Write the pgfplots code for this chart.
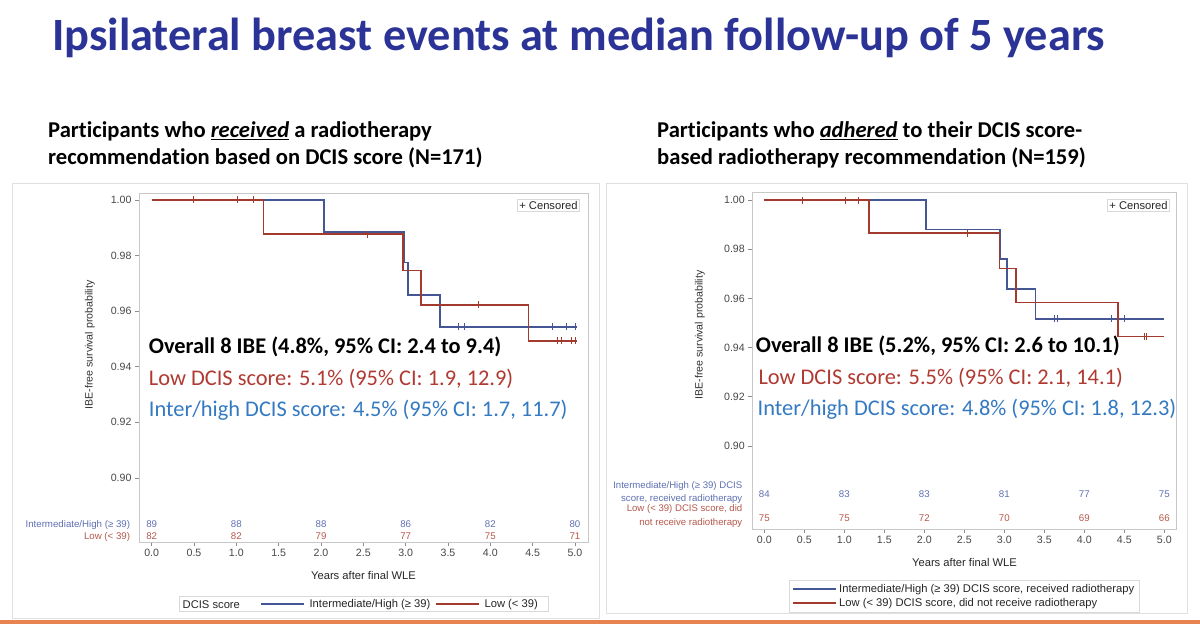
\documentclass[border=0pt]{standalone}
\usepackage{pgfplots}
\pgfplotsset{compat=1.18}
\usepackage{fontspec}
\setmainfont{Liberation Sans}
\newfontfamily\calibri[Ligatures=NoCommon]{Carlito}
\definecolor{kmblue}{RGB}{68,86,148}
\definecolor{kmred}{RGB}{162,58,46}
\definecolor{numblue}{RGB}{95,112,178}
\definecolor{numred}{RGB}{182,88,76}
\definecolor{txtred}{RGB}{176,58,50}
\definecolor{txtblue}{RGB}{52,122,194}
\definecolor{titleblue}{RGB}{43,52,150}
\definecolor{framegray}{RGB}{200,200,200}
\definecolor{slideline}{RGB}{232,130,80}
\newcommand{\fs}[1]{\fontsize{#1}{#1}\selectfont}
\pgfplotsset{
  kmaxis/.style={
    anchor=south west, scale only axis, clip=false,
    axis line style={draw=framegray, line width=0.8pt},
    tick style={draw=black!45, line width=0.6pt},
    tick align=outside, major tick length=4pt,
    xtick pos=left, ytick pos=left,
    xtick={0,0.5,1,1.5,2,2.5,3,3.5,4,4.5,5},
    ytick={0.90,0.92,0.94,0.96,0.98,1.00},
    /pgf/number format/assume math mode=true,
    tick label style={font=\fs{10.6}, text=black!72},
    x tick label style={/pgf/number format/.cd, fixed, fixed zerofill, precision=1},
    y tick label style={/pgf/number format/.cd, fixed, fixed zerofill, precision=2},
    legend cell align=left,
    legend image code/.code={\draw[#1, line width=1.8pt] (0pt,0pt) -- (43pt,0pt);},
  },
  kmb/.style={kmblue, line width=1.8pt, const plot},
  kmr/.style={kmred, line width=1.8pt, const plot},
  cb/.style={only marks, mark=|, mark size=3.5pt, kmblue, mark options={line width=0.8pt}, forget plot},
  cr/.style={only marks, mark=|, mark size=3.5pt, kmred, mark options={line width=0.8pt}, forget plot},
}
\tikzset{atrisk/.style={font=\fs{9.7}, inner sep=0pt}}
\begin{document}
\begin{tikzpicture}[x=1pt,y=1pt]
\path[use as bounding box] (0,0) rectangle (1200,628);
\fill[white] (0,0) rectangle (1200,628);

% slide title
\node[anchor=base west, inner sep=0pt, text=titleblue, font=\calibri\bfseries\fs{46.3}] at (52,577) {Ipsilateral breast events at median follow-up of 5 years};

% subtitles
\node[anchor=base west, inner sep=0pt, font=\calibri\bfseries\fs{22.6}] at (48,490) {Participants who \underline{\textit{received}} a radiotherapy};
\node[anchor=base west, inner sep=0pt, font=\calibri\bfseries\fs{22.6}] at (48,463) {recommendation based on DCIS score (N=171)};
\node[anchor=base west, inner sep=0pt, font=\calibri\bfseries\fs{22.6}] at (657,490) {Participants who \underline{\textit{adhered}} to their DCIS score-};
\node[anchor=base west, inner sep=0pt, font=\calibri\bfseries\fs{22.6}] at (657,463) {based radiotherapy recommendation (N=159)};

% panel frames
\draw[black!12, line width=0.8pt] (12,10) rectangle (599,445);
\draw[black!12, line width=0.8pt] (606,15) rectangle (1187,445);
% orange rule at bottom of slide
\fill[slideline] (0,4) rectangle (1200,8);

% left legend frame and title
\draw[black!15, line width=0.6pt] (179,16.3) rectangle (548,31.3);
\node[anchor=west, inner sep=0pt, font=\fs{11.2}, text=black!85] at (182.5,23.8) {DCIS score};

% ---------------- LEFT PANEL ----------------
\begin{axis}[kmaxis, at={(139pt,86pt)}, width=449pt, height=349pt,
  xmin=-0.15, xmax=5.154, ymin=0.8769, ymax=1.0025,
  legend columns=-1,
  legend style={at={(0.2686,-0.1777)}, anchor=west, draw=none, fill=none, font=\fs{11.2}, text=black!85,
    inner xsep=0pt, inner ysep=1pt,
    /tikz/every odd column/.append style={column sep=3pt},
    /tikz/every even column/.append style={column sep=2.5pt}},
]
\addplot[kmb] coordinates {(0,1.0000) (2.04,0.9886) (2.98,0.9775) (3.03,0.9659) (3.41,0.9544) (5.02,0.9544)};
\addlegendentry{Intermediate/High (≥ 39)}
\addplot[kmr] coordinates {(0,1.0000) (1.32,0.9876) (2.97,0.9746) (3.18,0.9622) (4.45,0.9493) (5.02,0.9493)};
\addlegendentry{Low (< 39)}
\addplot[cb] coordinates {(3.62,0.9544) (3.69,0.9544) (4.73,0.9544) (4.90,0.9544) (5.01,0.9544)};
\addplot[cr] coordinates {(0.49,1.0) (1.01,1.0) (1.20,1.0) (2.55,0.9876) (3.86,0.9622) (4.79,0.9493) (4.84,0.9493) (4.96,0.9493) (5.00,0.9493)};
% numbers at risk
\node[atrisk, text=numblue] at (axis cs:0,0.8832) {89};
\node[atrisk, text=numblue] at (axis cs:1,0.8832) {88};
\node[atrisk, text=numblue] at (axis cs:2,0.8832) {88};
\node[atrisk, text=numblue] at (axis cs:3,0.8832) {86};
\node[atrisk, text=numblue] at (axis cs:4,0.8832) {82};
\node[atrisk, text=numblue] at (axis cs:5,0.8832) {80};
\node[atrisk, text=numred] at (axis cs:0,0.8790) {82};
\node[atrisk, text=numred] at (axis cs:1,0.8790) {82};
\node[atrisk, text=numred] at (axis cs:2,0.8790) {79};
\node[atrisk, text=numred] at (axis cs:3,0.8790) {77};
\node[atrisk, text=numred] at (axis cs:4,0.8790) {75};
\node[atrisk, text=numred] at (axis cs:5,0.8790) {71};
\end{axis}

\node[rotate=90, font=\fs{10.6}, text=black!80] at (90,283) {IBE-free survival probability};
\node[font=\fs{11.2}, text=black!85] at (363.5,52.5) {Years after final WLE};
\node[draw=black!15, font=\fs{11.2}, text=black!85, inner sep=2pt] at (548.4,422.5) {+ Censored};
\node[atrisk, anchor=east, text=numblue] at (130.3,103) {Intermediate/High (≥ 39)};
\node[atrisk, anchor=east, text=numred] at (130.3,91) {Low (< 39)};
\node[anchor=west, inner sep=0pt, font=\calibri\bfseries\fs{22.4}] at (148.7,281) {Overall 8 IBE (4.8\%, 95\% CI: 2.4 to 9.4)};
\node[anchor=west, inner sep=0pt, font=\calibri\fs{22.4}, text=txtred] at (148.7,249) {Low DCIS score: 5.1\% (95\% CI: 1.9, 12.9)};
\node[anchor=west, inner sep=0pt, font=\calibri\fs{22.4}, text=txtblue] at (148.7,218) {Inter/high DCIS score: 4.5\% (95\% CI: 1.7, 11.7)};

% ---------------- RIGHT PANEL ----------------
\begin{axis}[kmaxis, at={(752.3pt,99pt)}, width=424.4pt, height=336.3pt,
  xmin=-0.15, xmax=5.155, ymin=0.8662, ymax=1.003,
  legend columns=1,
  legend style={at={(0.4995,-0.1998)}, anchor=center, draw=black!15, font=\fs{11.2}, text=black!85,
    inner xsep=3pt, inner ysep=2pt, row sep=0pt},
]
\addplot[kmb] coordinates {(0,1.0000) (2.02,0.9880) (2.95,0.9761) (3.03,0.9639) (3.39,0.9517) (5.00,0.9517)};
\addlegendentry{Intermediate/High (≥ 39) DCIS score, received radiotherapy}
\addplot[kmr] coordinates {(0,1.0000) (1.31,0.9866) (2.94,0.9722) (3.15,0.9583) (4.42,0.9445) (5.00,0.9445)};
\addlegendentry{Low (< 39) DCIS score, did not receive radiotherapy}
\addplot[cb] coordinates {(3.62,0.9517) (3.66,0.9517) (4.34,0.9517) (4.50,0.9517)};
\addplot[cr] coordinates {(0.48,1.0) (1.01,1.0) (1.18,1.0) (2.54,0.9866) (4.75,0.9445) (4.78,0.9445)};
\node[atrisk, text=numblue] at (axis cs:0,0.8805) {84};
\node[atrisk, text=numblue] at (axis cs:1,0.8805) {83};
\node[atrisk, text=numblue] at (axis cs:2,0.8805) {83};
\node[atrisk, text=numblue] at (axis cs:3,0.8805) {81};
\node[atrisk, text=numblue] at (axis cs:4,0.8805) {77};
\node[atrisk, text=numblue] at (axis cs:5,0.8805) {75};
\node[atrisk, text=numred] at (axis cs:0,0.8706) {75};
\node[atrisk, text=numred] at (axis cs:1,0.8706) {75};
\node[atrisk, text=numred] at (axis cs:2,0.8706) {72};
\node[atrisk, text=numred] at (axis cs:3,0.8706) {70};
\node[atrisk, text=numred] at (axis cs:4,0.8706) {69};
\node[atrisk, text=numred] at (axis cs:5,0.8706) {66};
\end{axis}

\node[rotate=90, font=\fs{10.6}, text=black!80] at (700,293) {IBE-free survival probability};
\node[font=\fs{11.2}, text=black!85] at (964.5,65.6) {Years after final WLE};
\node[draw=black!15, font=\fs{11.2}, text=black!85, inner sep=2pt] at (1138.5,422.5) {+ Censored};
\node[inner sep=0pt, anchor=east, align=right, text=numblue, font={\fontsize{9.6}{13.5}\selectfont}] at (742.5,135.6) {Intermediate/High (≥ 39) DCIS\\score, received radiotherapy};
\node[inner sep=0pt, anchor=east, align=right, text=numred, font={\fontsize{9.6}{13.5}\selectfont}] at (742.5,112) {Low (< 39) DCIS score, did\\not receive radiotherapy};
\node[anchor=west, inner sep=0pt, font=\calibri\bfseries\fs{22.4}] at (755.7,282) {Overall 8 IBE (5.2\%, 95\% CI: 2.6 to 10.1)};
\node[anchor=west, inner sep=0pt, font=\calibri\fs{22.4}, text=txtred] at (758.3,250) {Low DCIS score: 5.5\% (95\% CI: 2.1, 14.1)};
\node[anchor=west, inner sep=0pt, font=\calibri\fs{22.4}, text=txtblue] at (757.5,219) {Inter/high DCIS score: 4.8\% (95\% CI: 1.8, 12.3)};
\end{tikzpicture}
\end{document}
